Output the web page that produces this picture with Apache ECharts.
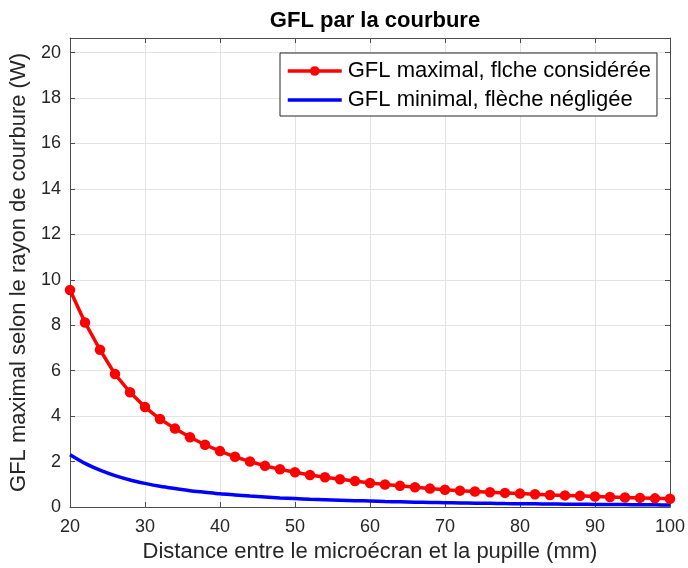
<!DOCTYPE html>
<html>
<head>
<meta charset="utf-8">
<script src="https://cdn.jsdelivr.net/npm/echarts@6/dist/echarts.min.js"></script>
<style>
  html, body { margin: 0; padding: 0; background: #ffffff; }
  #chart { width: 688px; height: 568px; }
</style>
</head>
<body>
<div id="chart"></div>
<script>
// Distance between micro-display and pupil (mm)
const distances = [20,22,24,26,28,30,32,34,36,38,40,42,44,46,48,50,52,54,56,58,60,
                   62,64,66,68,70,72,74,76,78,80,82,84,86,88,90,92,94,96,98,100];
// Maximal GFL, sag taken into account (W)
const gflMax = [9.55,8.12,6.92,5.85,5.05,4.40,3.87,3.45,3.07,2.74,2.46,2.21,2.00,1.81,1.66,1.53,
                1.41,1.31,1.22,1.14,1.06,0.99,0.93,0.87,0.81,0.76,0.72,0.68,0.65,0.62,0.59,0.56,
                0.53,0.51,0.49,0.46,0.44,0.42,0.40,0.38,0.36];
// Minimal GFL, sag neglected (W)
const gflMin = [2.30,1.92,1.62,1.38,1.19,1.04,0.91,0.81,0.72,0.65,0.58,0.53,0.48,0.44,0.40,0.37,
                0.34,0.32,0.30,0.28,0.26,0.24,0.23,0.21,0.20,0.19,0.18,0.17,0.16,0.15,0.145,0.14,
                0.13,0.125,0.12,0.115,0.11,0.105,0.10,0.095,0.09];
const seriesNames = ['GFL maximal, flche considérée', 'GFL minimal, flèche négligée'];
const titleText = 'GFL par la courbure';
const xName = 'Distance entre le microécran et la pupille (mm)';
const yName = 'GFL maximal selon le rayon de courbure (W)';

const FONT = '"Liberation Sans", Arial, sans-serif';
const INK = '#262626';
const AXIS = '#4d4d4d';

const chart = echarts.init(document.getElementById('chart'), null, { renderer: 'canvas' });

const gridBox = { left: 70, right: 17, top: 38, bottom: 58 };

// Unlabelled top/right axes close the box and carry inward ticks
function boxAxis(extra) {
  return Object.assign({
    axisLine: { show: true, onZero: false, lineStyle: { color: AXIS, width: 1 } },
    axisTick: { show: true, inside: true, length: 5, lineStyle: { color: AXIS } },
    axisLabel: { show: false },
    splitLine: { show: false }
  }, extra);
}

chart.setOption({
  animation: false,
  backgroundColor: '#ffffff',
  title: {
    text: titleText,
    left: 370,
    top: 5,
    textAlign: 'center',
    textStyle: { fontFamily: FONT, fontSize: 22, fontWeight: 'bold', color: '#000000' }
  },
  legend: {
    orient: 'vertical',
    left: 280,
    top: 53,
    padding: [7, 6, 5, 6],
    itemGap: 7,
    itemWidth: 54,
    itemHeight: 12,
    backgroundColor: '#ffffff',
    borderColor: '#262626',
    borderWidth: 1,
    borderRadius: 0,
    textStyle: { fontFamily: FONT, fontSize: 22, color: '#000000', padding: [0, 0, 0, 1] },
    data: [
      { name: seriesNames[0], lineStyle: { width: 3.5 } },
      {
        name: seriesNames[1],
        lineStyle: { width: 3.5 },
        itemStyle: { color: 'rgba(0,0,0,0)', borderWidth: 0, opacity: 0 }
      }
    ]
  },
  grid: gridBox,
  xAxis: [
    {
      type: 'value',
      min: 20, max: 100, interval: 10,
      position: 'bottom',
      name: xName,
      nameLocation: 'middle',
      nameGap: 34,
      nameTextStyle: { fontFamily: FONT, fontSize: 22, color: INK },
      axisLine: { show: true, onZero: false, lineStyle: { color: AXIS, width: 1 } },
      axisTick: { show: true, inside: true, length: 5, lineStyle: { color: AXIS } },
      axisLabel: { margin: 11, fontFamily: FONT, fontSize: 18, color: INK },
      splitLine: { show: true, lineStyle: { color: '#e3e3e3', width: 1 } }
    },
    boxAxis({ type: 'value', min: 20, max: 100, interval: 10, position: 'top' })
  ],
  yAxis: [
    {
      type: 'value',
      min: 0, max: 20.64, interval: 2,
      position: 'left',
      name: yName,
      nameLocation: 'middle',
      nameGap: 37,
      nameTextStyle: { fontFamily: FONT, fontSize: 22, color: INK },
      axisLine: { show: true, onZero: false, lineStyle: { color: AXIS, width: 1 } },
      axisTick: { show: true, inside: true, length: 5, lineStyle: { color: AXIS } },
      axisLabel: {
        margin: 9, fontFamily: FONT, fontSize: 18, color: INK,
        showMaxLabel: false,
        formatter: v => (Math.abs(v / 2 - Math.round(v / 2)) < 1e-9 ? String(v) : '')
      },
      splitLine: { show: true, lineStyle: { color: '#e3e3e3', width: 1 } }
    },
    boxAxis({ type: 'value', min: 0, max: 20.64, interval: 2, position: 'right' })
  ],
  series: [
    {
      name: seriesNames[0],
      type: 'line',
      xAxisIndex: 0, yAxisIndex: 0,
      data: distances.map((d, i) => [d, gflMax[i]]),
      symbol: 'circle',
      symbolSize: 10.5,
      showSymbol: true,
      lineStyle: { color: '#ff0000', width: 3.5 },
      itemStyle: { color: '#ff0000' },
      z: 3
    },
    {
      name: seriesNames[1],
      type: 'line',
      xAxisIndex: 0, yAxisIndex: 0,
      data: distances.map((d, i) => [d, gflMin[i]]),
      symbol: 'none',
      smooth: 0.3,
      lineStyle: { color: '#0000ff', width: 3.5 },
      itemStyle: { color: '#0000ff' },
      z: 2
    }
  ]
});
</script>
</body>
</html>
